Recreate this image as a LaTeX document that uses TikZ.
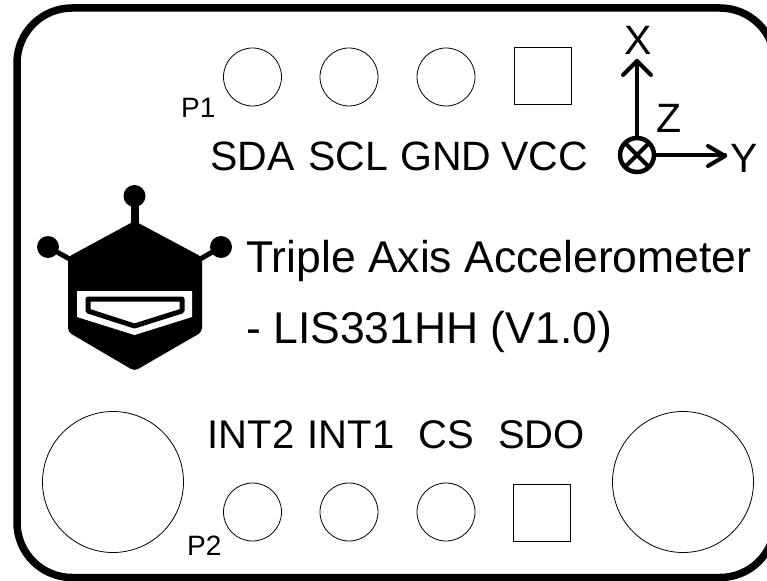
\documentclass[tikz,border=0pt]{standalone}
\usepackage{fontspec}
\setmainfont{Liberation Sans}
\tikzset{
 pad/.style={draw=black,line width=0.8pt,fill=white},
 lab/.style={anchor=base west,inner sep=0pt,text=black},
 big/.style={lab,font=\fontsize{41}{41}\selectfont},
 low/.style={lab,font=\fontsize{40}{40}\selectfont},
 title/.style={lab,font=\fontsize{44.5}{44.5}\selectfont},
 small/.style={lab,font=\fontsize{28}{28}\selectfont},
 axis/.style={line width=4pt,line cap=round,line join=round},
}
\begin{document}
\begin{tikzpicture}[x=1pt,y=-1pt]
\useasboundingbox (0,0) rectangle (767,580);
\fill[white] (0,0) rectangle (767,580);
\begin{scope}
\clip (0,0) rectangle (767,580);
\draw[line width=7.5pt,rounded corners=55pt] (17,8) rectangle (775,577.5);
\end{scope}
% pads
\foreach \n/\x/\y in {a/252.5/77,b/349/77,c/446/77,d/252.5/512,e/349/512,f/446/512}
  \node[pad,circle,minimum size=58pt,inner sep=0pt] (\n) at (\x,\y) {};
\node[pad,minimum size=57pt,inner sep=0pt] (vcc) at (542.5,75.5) {};
\node[pad,minimum size=57pt,inner sep=0pt] (sdo) at (542,512.5) {};
\node[pad,circle,minimum size=141pt,inner sep=0pt] (h1) at (113,482) {};
\node[pad,circle,minimum size=141pt,inner sep=0pt] (h2) at (683,482) {};
% labels
\node[small] (p1) at (181,118) {P1};
\node[small] (p2) at (187,555) {P2};
\node[big] (sda) at (210,171) {SDA};
\node[big] (scl) at (308,171) {SCL};
\node[big] (gnd) at (400,171) {GND};
\node[big] (vccl) at (501,171) {VCC};
\node[low] (int2) at (207.5,448) {INT2};
\node[low] (int1) at (307.5,448) {INT1};
\node[low] (cs) at (418,448) {CS};
\node[low] (sdol) at (498,448) {SDO};
\node[title] (t1) at (246,272) {Triple Axis Accelerometer};
\node[title] (t2) at (246,343) {- LIS331HH (V1.0)};
% axes
\node[big] (x) at (624,55) {X};
\node[big] (y) at (730,172) {Y};
\node[big] (z) at (656,133) {Z};
\coordinate (o) at (637,155);
\coordinate (xt) at (637,61);
\coordinate (yt) at (725,156);
\draw[axis] (o) -- (xt);
\draw[axis] (623,75) -- (xt) -- (651,75);
\draw[axis] (o) -- (o-|yt) -- (yt);
\draw[axis] (708,146) -- (yt) -- (708,166);
\draw[line width=4.5pt,fill=white] (o) circle (17pt);
\draw[line width=4pt] (625,143) -- (649,167) (649,143) -- (625,167);
% logo
\fill (134.5,196) circle (11pt);
\fill (48,247) circle (11pt);
\fill (221,247) circle (11pt);
\draw[line width=8pt] (134.5,196) -- (134.5,230);
\draw[line width=5pt] (48,247) -- (75,262);
\draw[line width=5pt] (221,247) -- (195,262);
\fill[rounded corners=4pt] (134.5,221) -- (202,257) -- (202,332) -- (134.5,371) -- (68,332) -- (68,257) -- cycle;
\fill[white] (77,291) -- (192,291) -- (192,317) -- (134.5,335) -- (77,317) -- cycle;
\draw[line width=5pt,line join=round,fill=white] (88,299) -- (182,299) -- (182,311) -- (134.5,326) -- (88,311) -- cycle;
\end{tikzpicture}
\end{document}
